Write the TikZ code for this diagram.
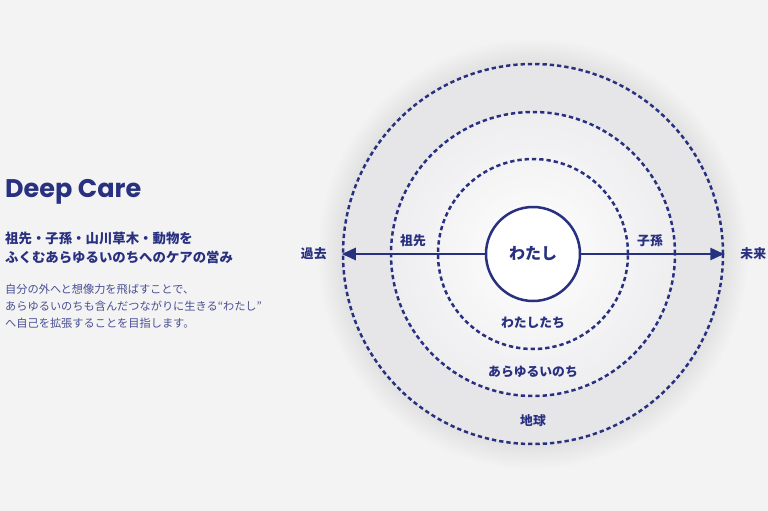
\documentclass[tikz,border=0pt]{standalone}
\usepackage{fontspec}
\setmainfont{Noto Sans CJK JP}
\newfontfamily\latinfont{Poppins}
\usetikzlibrary{
    arrows.meta,  % arrow tips
    positioning,  % relative placement of the outer labels
}
\definecolor{navy}{RGB}{40,48,128}
\definecolor{paper}{RGB}{244,243,243}
\definecolor{earthgray}{RGB}{230,230,232}
\definecolor{lifegray}{RGB}{238,238,240}

\tikzset{
    ring/.style={circle, draw=navy, line width=2.5pt, dash pattern=on 4.3pt off 3pt, inner sep=0pt},
    me/.style={circle, draw=navy, line width=2.5pt, fill=white, minimum size=94pt, inner sep=0pt,
        text=navy, font=\bfseries\fontsize{16}{16}\selectfont},
    lbl/.style={text=navy, inner sep=0pt, font=\bfseries\fontsize{12.8}{12.8}\selectfont},
    timeline/.style={draw=navy, line width=2.6pt, -{Triangle[length=14pt, width=12pt]}},
    lead/.style={anchor=west, inner sep=0pt, text=navy, font=\bfseries\fontsize{13.4}{13.4}\selectfont},
    body/.style={anchor=west, inner sep=0pt, text=navy!85, font=\fontsize{11.2}{11.2}\selectfont},
}

\begin{document}
\begin{tikzpicture}[x=1pt, y=-1pt]
    \useasboundingbox (0, 0) rectangle (768, 511);
    \fill[paper] (0, 0) rectangle (768, 511);

    \coordinate (c) at (533, 254);

    % soft halo round the earth
    \foreach \r in {0,...,18} {
        \fill[black, opacity=0.005] (c) circle ({190 + 1.4*\r});
    }
    \fill[earthgray] (c) circle (190);
    % light fading towards the centre
    \foreach \i in {0,...,28} {
        \pgfmathsetmacro\rr{142 - 5*\i}
        \pgfmathsetmacro\pc{100 - 3.5*\i}
        \fill[lifegray!\pc!white] (c) circle (\rr);
    }

    % the three dashed circles
    \node[ring, minimum size=380pt] (earth) at (c) {};
    \node[ring, minimum size=284pt] (life) at (c) {};
    \node[ring, minimum size=190pt] (us) at (c) {};

    \node[me] (me) at (c) {わたし};

    \draw[timeline] (me) -- (earth.west);
    \draw[timeline] (me) -- (earth.east);

    \node[lbl, left=15pt of earth.west] (past) {過去};
    \node[lbl, right=16pt of earth.east] (future) {未来};
    \node[lbl] (ancestors) at (413, 241) {祖先};
    \node[lbl] (descendants) at (650, 241) {子孫};
    \node[lbl] (uslabel) at (533, 323) {わたしたち};
    \node[lbl] (lifelabel) at (533, 372) {あらゆるいのち};
    \node[lbl] (earthlabel) at (533, 421) {地球};

    % text on the left
    \node[anchor=base west, inner sep=0pt, text=navy, font=\latinfont\bfseries\fontsize{25.5}{25.5}\selectfont]
        (title) at (5, 197) {Deep Care};
    \node[lead] (lead1) at (5, 238) {祖先・子孫・山川草木・動物を};
    \node[lead] (lead2) at (5, 257) {ふくむあらゆるいのちへのケアの営み};
    \node[body] (body1) at (5, 289) {自分の外へと想像力を飛ばすことで、};
    \node[body] (body2) at (5, 306) {あらゆるいのちも含んだつながりに生きる“わたし”};
    \node[body] (body3) at (5, 323) {へ自己を拡張することを目指します。};
\end{tikzpicture}
\end{document}
